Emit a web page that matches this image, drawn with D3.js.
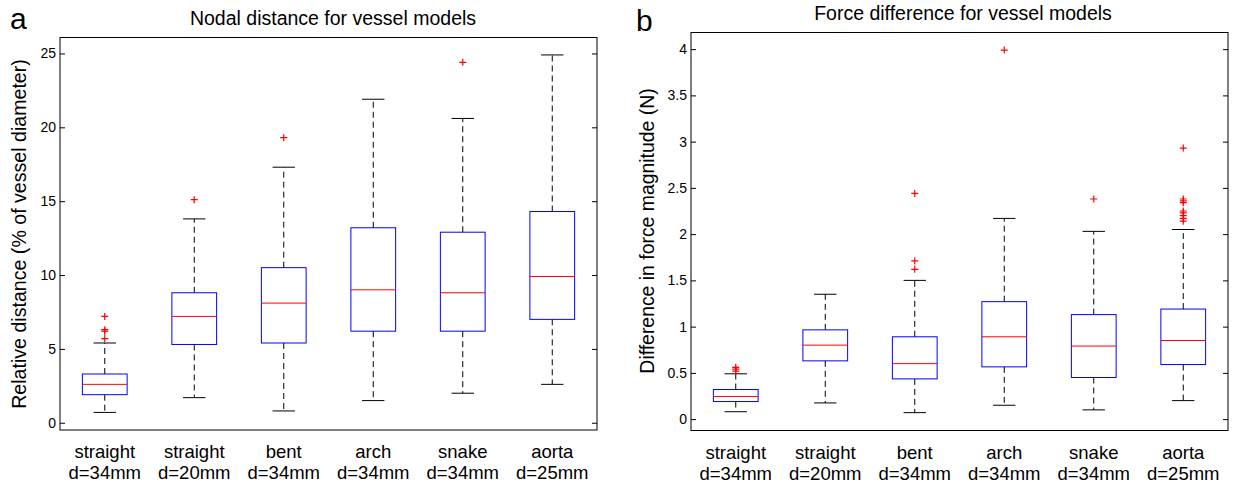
<!DOCTYPE html>
<html>
<head>
<meta charset="utf-8">
<script src="https://cdn.jsdelivr.net/npm/d3@7"></script>
<style>
  body { margin: 0; background: #fff; }
  svg { font-family: "Liberation Sans", Arial, Helvetica, sans-serif; }
</style>
</head>
<body>
<svg id="chart" width="1237" height="486"></svg>
<script>
// categories, two lines each
const shapes = ["straight", "straight", "bent", "arch", "snake", "aorta"]
const diameters = ["d=34mm", "d=20mm", "d=34mm", "d=34mm", "d=34mm", "d=25mm"]

// panel a: nodal distance (% of vessel diameter)
const distLow = [0.7, 1.7, 0.8, 1.5, 2.0, 2.6]
const distQ1 = [1.9, 5.3, 5.4, 6.2, 6.2, 7.0]
const distMedian = [2.6, 7.2, 8.1, 9.0, 8.8, 9.9]
const distQ3 = [3.3, 8.8, 10.5, 13.2, 12.9, 14.3]
const distHigh = [5.4, 13.8, 17.3, 21.9, 20.6, 24.9]
const distOutliers = [[5.7, 6.2, 6.3, 7.2], [15.1], [19.3], [], [24.4], []]
const distTicks = [0, 5, 10, 15, 20, 25]

// panel b: force difference (N)
const forceLow = [0.08, 0.175, 0.07, 0.15, 0.10, 0.20]
const forceQ1 = [0.19, 0.63, 0.435, 0.565, 0.45, 0.59]
const forceMedian = [0.245, 0.80, 0.60, 0.89, 0.79, 0.85]
const forceQ3 = [0.32, 0.965, 0.89, 1.27, 1.13, 1.19]
const forceHigh = [0.49, 1.35, 1.50, 2.17, 2.03, 2.05]
const forceOutliers = [[0.52, 0.54, 0.56], [], [1.62, 1.71, 2.44], [3.99], [2.38],
  [2.14, 2.17, 2.20, 2.23, 2.25, 2.34, 2.36, 2.38, 2.93]]
const forceTicks = [0, 0.5, 1, 1.5, 2, 2.5, 3, 3.5, 4]

const svg = d3.select("#chart")

const drawPanel = (opts) => {
  const { left, right, top, bottom, yDomain, ticks, low, q1, med, q3, high, outliers } = opts

  const x = d3.scaleLinear().domain([0.5, 6.5]).range([left, right])
  const y = d3.scaleLinear().domain(yDomain).range([bottom, top])
  const g = svg.append("g")

  const groups = shapes.map((s, i) => ({
    pos: i + 1, low: low[i], q1: q1[i], med: med[i], q3: q3[i], high: high[i], out: outliers[i]
  }))

  // axes with inward ticks on both sides
  g.append("g")
    .attr("transform", `translate(${left},0)`)
    .call(d3.axisLeft(y).tickValues(ticks).tickSize(-5).tickPadding(4).tickFormat(d3.format("~g")))
    .call(a => a.select(".domain").remove())
    .call(a => a.selectAll("text").attr("font-size", 14).attr("fill", "#000").attr("font-family", null))
    .call(a => a.selectAll("line").attr("stroke", "#000"))
  g.append("g")
    .attr("transform", `translate(${right},0)`)
    .call(d3.axisRight(y).tickValues(ticks).tickSize(-5).tickFormat(""))
    .call(a => a.select(".domain").remove())
    .call(a => a.selectAll("line").attr("stroke", "#000"))

  const box = g.selectAll(".grp").data(groups).enter().append("g").attr("class", "grp")
  const bw = x(1.25) - x(1)
  const cw = x(1.125) - x(1)

  // whiskers
  box.append("line")
    .attr("x1", d => x(d.pos)).attr("x2", d => x(d.pos))
    .attr("y1", d => y(d.q3)).attr("y2", d => y(d.high))
    .attr("stroke", "#000").attr("stroke-dasharray", "6,4")
  box.append("line")
    .attr("x1", d => x(d.pos)).attr("x2", d => x(d.pos))
    .attr("y1", d => y(d.q1)).attr("y2", d => y(d.low))
    .attr("stroke", "#000").attr("stroke-dasharray", "6,4")
  box.append("line")
    .attr("x1", d => x(d.pos) - cw).attr("x2", d => x(d.pos) + cw)
    .attr("y1", d => y(d.high)).attr("y2", d => y(d.high))
    .attr("stroke", "#000")
  box.append("line")
    .attr("x1", d => x(d.pos) - cw).attr("x2", d => x(d.pos) + cw)
    .attr("y1", d => y(d.low)).attr("y2", d => y(d.low))
    .attr("stroke", "#000")

  // boxes
  box.append("rect")
    .attr("x", d => x(d.pos) - bw).attr("width", 2 * bw)
    .attr("y", d => y(d.q3)).attr("height", d => y(d.q1) - y(d.q3))
    .attr("fill", "none").attr("stroke", "#0000ff")
  box.append("line")
    .attr("x1", d => x(d.pos) - bw).attr("x2", d => x(d.pos) + bw)
    .attr("y1", d => y(d.med)).attr("y2", d => y(d.med))
    .attr("stroke", "#ff0000")

  // outliers as red plus marks
  box.selectAll(".out")
    .data(d => d.out.map(v => ({ pos: d.pos, v: v })))
    .enter().append("path")
    .attr("d", d => {
      const cx = x(d.pos), cy = y(d.v)
      return `M${cx - 3.5},${cy}H${cx + 3.5}M${cx},${cy - 3.5}V${cy + 3.5}`
    })
    .attr("stroke", "#ff0000").attr("stroke-width", 1.2)

  // category labels
  const lab = g.selectAll(".cat").data(groups).enter().append("text")
    .attr("class", "cat")
    .attr("x", d => x(d.pos))
    .attr("text-anchor", "middle")
    .attr("font-size", 18.5)
  lab.append("tspan").attr("x", d => x(d.pos)).attr("y", bottom + 28).text((d, i) => shapes[i])
  lab.append("tspan").attr("x", d => x(d.pos)).attr("y", bottom + 49).text((d, i) => diameters[i])

  // plot frame
  g.append("rect")
    .attr("x", left).attr("y", top)
    .attr("width", right - left).attr("height", bottom - top)
    .attr("fill", "none").attr("stroke", "#000")

  return g
}

const ga = drawPanel({
  left: 60, right: 597, top: 37.5, bottom: 430, yDomain: [-0.49, 26.08], ticks: distTicks,
  low: distLow, q1: distQ1, med: distMedian, q3: distQ3, high: distHigh, outliers: distOutliers
})
ga.append("text").attr("x", 333).attr("y", 25).attr("text-anchor", "middle")
  .attr("font-size", 19.5).text("Nodal distance for vessel models")
ga.append("text").attr("transform", "translate(26,234) rotate(-90)").attr("text-anchor", "middle")
  .attr("font-size", 19.6).text("Relative distance (% of vessel diameter)")
ga.append("text").attr("x", 10).attr("y", 29).attr("font-size", 30).text("a")

const gb = drawPanel({
  left: 691, right: 1228, top: 32.5, bottom: 430.5, yDomain: [-0.123, 4.18], ticks: forceTicks,
  low: forceLow, q1: forceQ1, med: forceMedian, q3: forceQ3, high: forceHigh, outliers: forceOutliers
})
gb.append("text").attr("x", 963).attr("y", 20).attr("text-anchor", "middle")
  .attr("font-size", 19.5).text("Force difference for vessel models")
gb.append("text").attr("transform", "translate(654,231) rotate(-90)").attr("text-anchor", "middle")
  .attr("font-size", 19.4).text("Difference in force magnitude (N)")
gb.append("text").attr("x", 636).attr("y", 31).attr("font-size", 30).text("b")
</script>
</body>
</html>
